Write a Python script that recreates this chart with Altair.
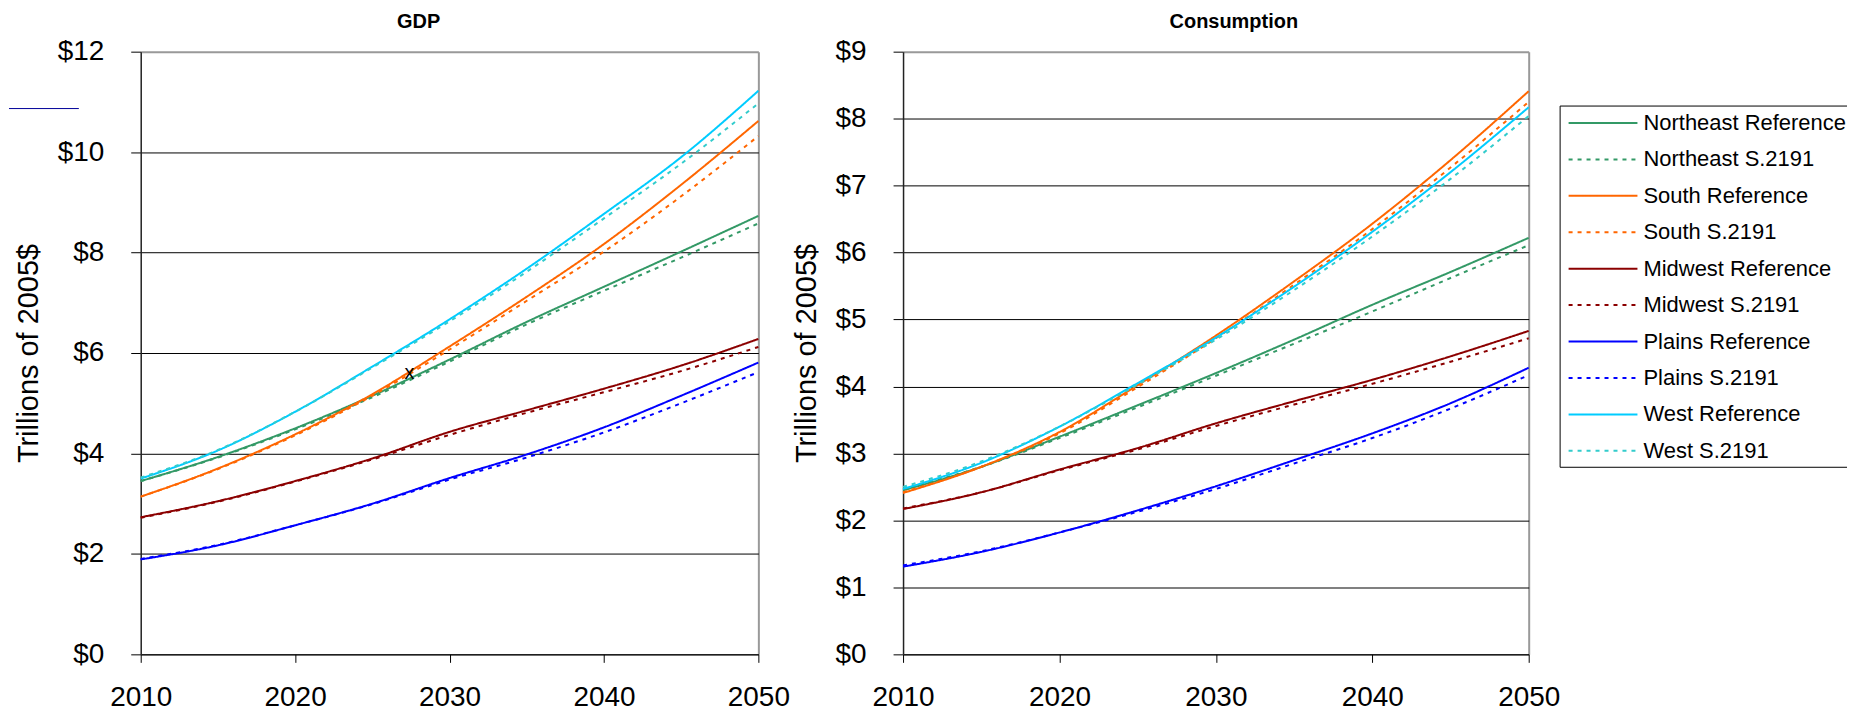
import altair as alt
import pandas as pd

# ---------------- data ----------------
years = [2010, 2015, 2020, 2025, 2030, 2035, 2040, 2045, 2050]

series_names = [
    "Northeast Reference", "Northeast S.2191",
    "South Reference", "South S.2191",
    "Midwest Reference", "Midwest S.2191",
    "Plains Reference", "Plains S.2191",
    "West Reference", "West S.2191",
]
series_colors = [
    "#339966", "#339966",
    "#FF6600", "#FF6600",
    "#8B0000", "#8B0000",
    "#0000FF", "#0000FF",
    "#00CCFF", "#33CCCC",
]
series_dashes = [
    [1, 0], [4, 5],
    [1, 0], [4, 5],
    [1, 0], [4, 5],
    [1, 0], [4, 5],
    [1, 0], [4, 5],
]

# GDP (trillions of 2005$)
gdp_ne_ref = [3.45, 3.93, 4.50, 5.15, 5.87, 6.62, 7.32, 8.02, 8.73]
gdp_ne_s = [3.45, 3.92, 4.48, 5.12, 5.83, 6.57, 7.24, 7.90, 8.58]
gdp_south_ref = [3.14, 3.70, 4.38, 5.18, 6.13, 7.12, 8.17, 9.35, 10.62]
gdp_south_s = [3.14, 3.69, 4.36, 5.15, 6.07, 7.04, 8.02, 9.12, 10.32]
gdp_mw_ref = [2.73, 3.05, 3.45, 3.90, 4.43, 4.86, 5.29, 5.75, 6.28]
gdp_mw_s = [2.72, 3.04, 3.44, 3.88, 4.37, 4.81, 5.22, 5.64, 6.12]
gdp_plains_ref = [1.89, 2.17, 2.57, 3.00, 3.51, 3.98, 4.52, 5.15, 5.81]
gdp_plains_s = [1.90, 2.18, 2.57, 2.99, 3.48, 3.92, 4.42, 5.00, 5.62]
gdp_west_ref = [3.50, 4.06, 4.83, 5.73, 6.67, 7.68, 8.77, 9.90, 11.22]
gdp_west_s = [3.52, 4.07, 4.83, 5.71, 6.63, 7.62, 8.68, 9.77, 10.97]

# Consumption (trillions of 2005$)
con_ne_ref = [2.45, 2.80, 3.25, 3.72, 4.20, 4.70, 5.22, 5.71, 6.22]
con_ne_s = [2.47, 2.80, 3.23, 3.69, 4.16, 4.64, 5.12, 5.62, 6.11]
con_south_ref = [2.41, 2.80, 3.32, 4.02, 4.76, 5.57, 6.43, 7.38, 8.41]
con_south_s = [2.42, 2.80, 3.30, 3.99, 4.72, 5.52, 6.35, 7.27, 8.25]
con_mw_ref = [2.17, 2.42, 2.76, 3.08, 3.45, 3.78, 4.10, 4.45, 4.83]
con_mw_s = [2.18, 2.42, 2.75, 3.06, 3.41, 3.73, 4.04, 4.37, 4.72]
con_plains_ref = [1.31, 1.53, 1.82, 2.15, 2.51, 2.90, 3.30, 3.75, 4.28]
con_plains_s = [1.33, 1.54, 1.82, 2.13, 2.47, 2.85, 3.23, 3.67, 4.17]
con_west_ref = [2.47, 2.86, 3.40, 4.05, 4.73, 5.49, 6.31, 7.20, 8.17]
con_west_s = [2.50, 2.88, 3.40, 4.03, 4.70, 5.44, 6.24, 7.10, 8.04]

x_ticks = [2010, 2020, 2030, 2040, 2050]
gdp_ticks = [0, 2, 4, 6, 8, 10, 12]
con_ticks = [0, 1, 2, 3, 4, 5, 6, 7, 8, 9]

# stray "x" annotation on the GDP panel
marker_year = [2027.4]
marker_value = [5.6]
marker_text = ["x"]

gdp_series = [gdp_ne_ref, gdp_ne_s, gdp_south_ref, gdp_south_s, gdp_mw_ref,
              gdp_mw_s, gdp_plains_ref, gdp_plains_s, gdp_west_ref, gdp_west_s]
con_series = [con_ne_ref, con_ne_s, con_south_ref, con_south_s, con_mw_ref,
              con_mw_s, con_plains_ref, con_plains_s, con_west_ref, con_west_s]


def long_df(all_series):
    rows = []
    for name, vals in zip(series_names, all_series):
        for y, v in zip(years, vals):
            rows.append({"year": y, "value": v, "series": name})
    return pd.DataFrame(rows)


FONT = "Liberation Sans"

# long horizontal line symbol: nominal box 23px, drawn 69px wide
legend = alt.Legend(
    title=None, orient="none", legendX=1422, legendY=54,
    symbolType="M-0.74,0H5.26", symbolSize=529, symbolStrokeWidth=2,
    labelFontSize=22, labelFont=FONT, labelColor="black",
    rowPadding=12.5, labelOffset=54, strokeColor="black", padding=5,
    fillColor="white", labelLimit=0, symbolOpacity=1,
)


def panel(df, title, title_dx, ymax, yticks, width, extra_layers):
    xaxis = alt.Axis(
        values=x_ticks, format="d", title=None, labelFontSize=28,
        labelPadding=21, tickSize=8, tickColor="black", domainColor="black",
        labelFlush=False, grid=True, gridColor="#999999", gridWidth=2,
        gridOpacity={"condition": {"test": "datum.value === 2050", "value": 1}, "value": 0},
    )
    yaxis = alt.Axis(
        values=yticks, labelExpr="'$' + datum.value", title="Trillions of 2005$",
        titleFontSize=29, titleFontWeight="normal", titlePadding=14,
        labelFontSize=28, labelPadding=27, tickSize=10, tickColor="black",
        domainColor="#222222", domainWidth=1.5, grid=True,
        gridColor={"condition": {"test": f"datum.value === {ymax}", "value": "#999999"}, "value": "black"},
        gridWidth={"condition": {"test": f"datum.value === {ymax}", "value": 2}, "value": 1},
        labelFlush=False,
    )
    lines = alt.Chart(df).mark_line(strokeWidth=2, interpolate="monotone").encode(
        x=alt.X("year:Q", scale=alt.Scale(domain=[2010, 2050], nice=False), axis=xaxis),
        y=alt.Y("value:Q", scale=alt.Scale(domain=[0, ymax], nice=False), axis=yaxis),
        color=alt.Color("series:N", scale=alt.Scale(domain=series_names, range=series_colors),
                        legend=legend, sort=series_names),
        strokeDash=alt.StrokeDash("series:N", scale=alt.Scale(domain=series_names, range=series_dashes),
                                  legend=legend, sort=series_names),
    )
    return alt.layer(lines, *extra_layers).properties(
        width=width, height=604,
        title=alt.TitleParams(title, fontSize=20, fontWeight="bold", font=FONT,
                              color="black", dx=title_dx, offset=6),
    )


marker_df = pd.DataFrame({"year": marker_year, "value": marker_value, "t": marker_text})
marker = alt.Chart(marker_df).mark_text(fontSize=20, color="black", font=FONT).encode(
    x="year:Q", y="value:Q", text="t:N")
stray = alt.Chart(marker_df).mark_rule(color="#000099", strokeWidth=1).encode(
    x=alt.value(-132), x2=alt.value(-62), y=alt.value(57))

left = panel(long_df(gdp_series), "GDP", -31, 12, gdp_ticks, 619, [marker, stray])
right = panel(long_df(con_series), "Consumption", 18, 9, con_ticks, 627, [])

chart = alt.hconcat(left, right, spacing=145, bounds="flush").properties(
    padding={"left": 0, "top": 3, "right": -5, "bottom": 0}
).configure_view(stroke=None).configure_axis(
    labelFont=FONT, titleFont=FONT, labelColor="black", titleColor="black"
)

chart.save("out.html", embed_options={"renderer": "svg", "actions": False})
